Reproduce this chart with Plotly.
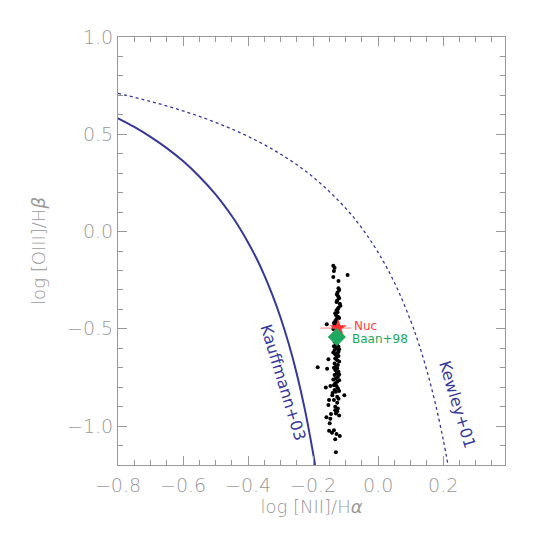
import plotly.graph_objects as go

# black points: log [NII]/Ha, log [OIII]/Hb
pts_x = [-0.138, -0.134, -0.136, -0.138, -0.094, -0.122, -0.122, -0.125, -0.127, -0.123,
         -0.120, -0.126, -0.118, -0.116, -0.122, -0.124,
         -0.128, -0.125, -0.130, -0.124, -0.128, -0.132, -0.126, -0.158, -0.134, -0.122,
         -0.130, -0.138, -0.134, -0.126, -0.130, -0.122, -0.128, -0.134, -0.122, -0.126, -0.132,
         -0.122, -0.132, -0.126, -0.153, -0.134, -0.124, -0.130, -0.186, -0.157, -0.126,
         -0.132, -0.122, -0.128, -0.134, -0.124, -0.130, -0.126, -0.132, -0.147, -0.128,
         -0.161, -0.124, -0.134, -0.130, -0.104, -0.141, -0.126, -0.151, -0.136, -0.126, -0.153,
         -0.132, -0.126, -0.130, -0.145, -0.159, -0.147, -0.149, -0.136, -0.151, -0.142,
         -0.128, -0.118, -0.132, -0.130,
         -0.120, -0.128, -0.132, -0.120, -0.136, -0.120, -0.140, -0.118, -0.136, -0.120,
         -0.138, -0.128, -0.120, -0.136, -0.120, -0.138, -0.120, -0.136, -0.120, -0.140,
         -0.122, -0.132, -0.124, -0.120]
pts_y = [-0.176, -0.186, -0.203, -0.234, -0.224, -0.254, -0.292, -0.313, -0.323, -0.333,
         -0.343, -0.354, -0.371, -0.381, -0.392, -0.398,
         -0.404, -0.415, -0.429, -0.438, -0.450, -0.460, -0.467, -0.477, -0.481, -0.484,
         -0.495, -0.501, -0.567, -0.575, -0.584, -0.592, -0.601, -0.609, -0.618, -0.626, -0.631,
         -0.640, -0.652, -0.661, -0.657, -0.678, -0.686, -0.692, -0.698, -0.705, -0.703,
         -0.712, -0.721, -0.729, -0.738, -0.747, -0.755, -0.772, -0.780, -0.794, -0.794,
         -0.801, -0.806, -0.815, -0.824, -0.841, -0.841, -0.849, -0.866, -0.866, -0.880, -0.892,
         -0.918, -0.924, -0.935, -0.938, -0.955, -0.962, -0.986, -1.021, -1.024, -1.034,
         -1.041, -1.051, -1.068, -1.134,
         -0.300, -0.362, -0.420, -0.445, -0.470, -0.510, -0.545, -0.555, -0.590, -0.605,
         -0.622, -0.645, -0.668, -0.700, -0.735, -0.760, -0.765, -0.790, -0.820, -0.830,
         -0.860, -0.900, -0.910, -0.945]

# nucleus and Baan+98 values
nuc_x, nuc_y = -0.123, -0.496
nuc_err_minus, nuc_err_plus = 0.055, 0.04
baan_x, baan_y = -0.127, -0.542

# demarcation curves
kauff_x = [-0.8, -0.75, -0.7, -0.65, -0.6, -0.55, -0.5, -0.45, -0.425, -0.4, -0.375,
           -0.35, -0.325, -0.3, -0.275, -0.25, -0.225, -0.2, -0.194]
kauff_y = [0.582, 0.538, 0.487, 0.429, 0.362, 0.283, 0.191, 0.080, 0.016, -0.056, -0.135,
           -0.225, -0.327, -0.443, -0.577, -0.733, -0.918, -1.140, -1.200]
kewley_x = [-0.8, -0.7, -0.6, -0.5, -0.4, -0.3, -0.2, -0.1, -0.05, 0.0, 0.05, 0.1,
            0.125, 0.15, 0.175, 0.2, 0.215]
kewley_y = [0.710, 0.669, 0.620, 0.561, 0.489, 0.398, 0.280, 0.120, 0.017, -0.108, -0.262,
            -0.459, -0.578, -0.716, -0.878, -1.069, -1.202]

navy = "#38389a"
grey = "#999999"
tick_font = dict(family="DejaVu Sans", size=19, color=grey, weight=200)
title_font = dict(family="DejaVu Sans", size=18, color=grey, weight=200)

fig = go.Figure()
fig.add_trace(go.Scatter(x=kauff_x, y=kauff_y, mode="lines", line_shape="spline",
                         line=dict(color=navy, width=2)))
fig.add_trace(go.Scatter(x=kewley_x, y=kewley_y, mode="lines", line_shape="spline",
                         line=dict(color=navy, width=1.3, dash="dot")))
fig.add_trace(go.Scatter(x=pts_x, y=pts_y, mode="markers",
                         marker=dict(color="black", size=4)))
fig.add_trace(go.Scatter(x=[nuc_x], y=[nuc_y], mode="markers",
                         marker=dict(color="#ff3030", size=13, symbol="star"),
                         error_x=dict(type="data", symmetric=False, array=[nuc_err_plus],
                                      arrayminus=[nuc_err_minus], color="#ff8080",
                                      thickness=1, width=0)))
fig.add_trace(go.Scatter(x=[baan_x], y=[baan_y], mode="markers",
                         marker=dict(color="#20a860", size=14, symbol="diamond")))

fig.add_annotation(x=-0.082, y=nuc_y + 0.012, text="Nuc", showarrow=False, xanchor="left",
                   font=dict(family="DejaVu Sans", size=12, color="#ff4040"))
fig.add_annotation(x=-0.088, y=baan_y - 0.012, text="Baan+98", showarrow=False, xanchor="left",
                   font=dict(family="DejaVu Sans", size=12, color="#20a860"))
fig.add_annotation(x=-0.292, y=-0.775, text="Kauffmann+03", showarrow=False, textangle=73,
                   font=dict(family="DejaVu Sans", size=16, color=navy))
fig.add_annotation(x=0.243, y=-0.89, text="Kewley+01", showarrow=False, textangle=73,
                   font=dict(family="DejaVu Sans", size=16, color=navy))

axis_common = dict(showline=True, linecolor=grey, linewidth=1, mirror="ticks",
                   ticks="inside", ticklen=9, tickcolor=grey, showgrid=False,
                   zeroline=False, tickfont=tick_font)
fig.update_xaxes(range=[-0.8, 0.39], dtick=0.2, tick0=-0.8, tickformat=".1f",
                 ticklabelstandoff=3,
                 minor=dict(dtick=0.05, ticks="inside", ticklen=5, tickcolor=grey),
                 title=dict(text="log [NII]/H<i>α</i>", font=title_font, standoff=5),
                 **axis_common)
fig.update_yaxes(range=[-1.2, 1.0], dtick=0.5, tick0=0, tickformat=".1f",
                 minor=dict(dtick=0.1, ticks="inside", ticklen=5, tickcolor=grey),
                 title=dict(text="log [OIII]/H<i>β</i>", font=title_font, standoff=16),
                 **axis_common)
# page body adds 8px offset, margins compensate
fig.update_layout(width=540, height=540, showlegend=False,
                  plot_bgcolor="white", paper_bgcolor="white",
                  margin=dict(l=110, r=43, t=29, b=83))
fig.write_html("out.html")
